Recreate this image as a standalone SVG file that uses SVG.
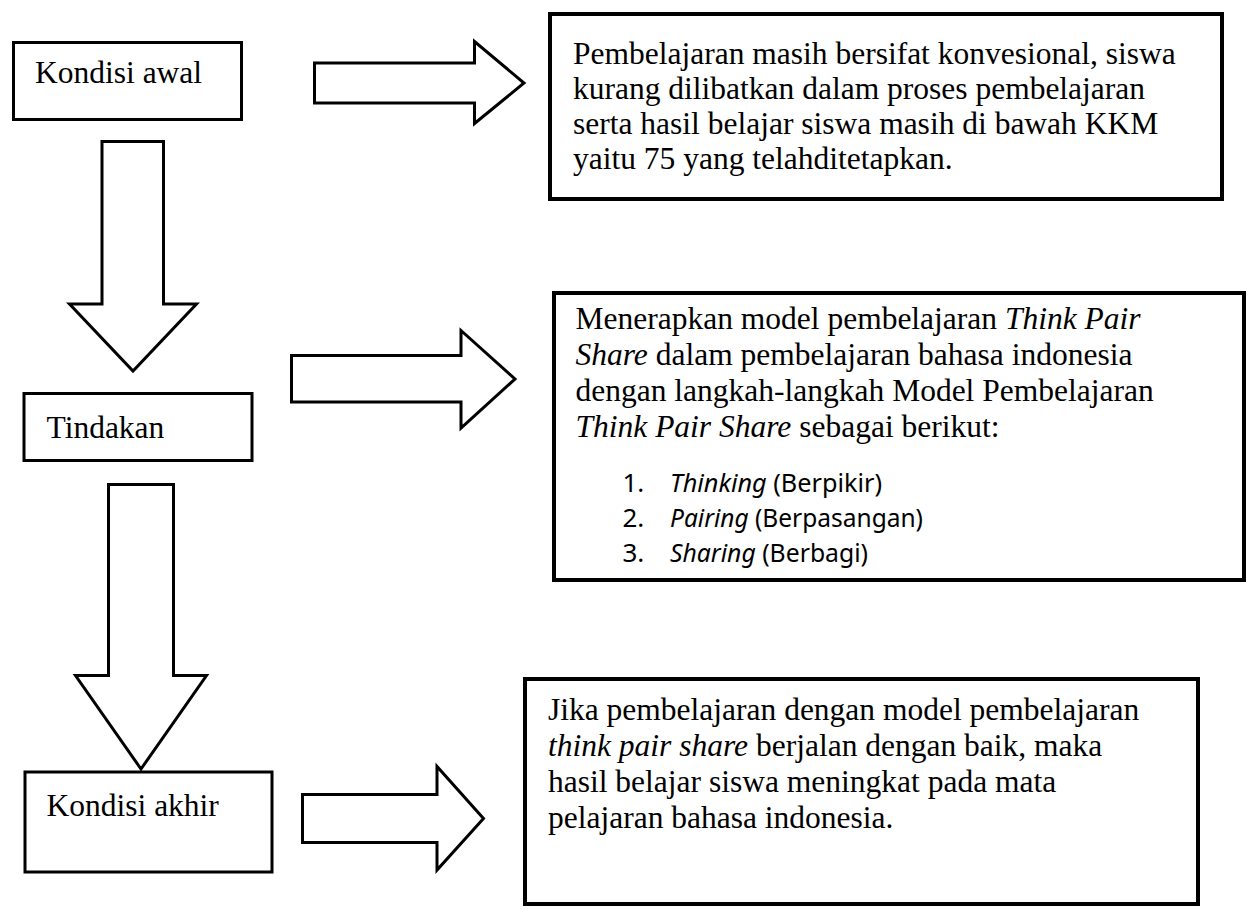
<svg xmlns="http://www.w3.org/2000/svg" width="1257" height="917" viewBox="0 0 1257 917">
<style>
.bg{fill:#fff}
.box{fill:#fff;stroke:#000;stroke-width:3}
.bigbox{fill:#fff;stroke:#000;stroke-width:4}
.arrow{fill:#fff;stroke:#000;stroke-width:3;stroke-linejoin:miter}
.t{font-family:"Liberation Serif","Times New Roman",serif;font-size:31.5px;fill:#000}
.li{font-family:"Noto Sans","Open Sans",sans-serif;font-size:26px;fill:#000}
.i{font-style:italic}
</style>
<rect class="bg" x="0" y="0" width="1257" height="917"/>
<g id="connectors">
  <polygon id="arrow-right-1" class="arrow" points="314.5,63 474.5,63 474.5,41.5 524,83 474.5,123.5 474.5,103 314.5,103"/>
  <polygon id="arrow-down-1" class="arrow" points="102,141.5 163.5,141.5 163.5,304 196.5,304 133,371 69.5,304 102,304"/>
  <polygon id="arrow-right-2" class="arrow" points="291.5,355.5 461,355.5 461,330.5 515,379 461,428 461,402 291.5,402"/>
  <polygon id="arrow-down-2" class="arrow" points="108.5,484.5 173.5,484.5 173.5,675.5 206.5,675.5 141,769 75.5,675.5 108.5,675.5"/>
  <polygon id="arrow-right-3" class="arrow" points="302.5,794.5 437,794.5 437,766.5 483.5,818.5 437,870 437,842.5 302.5,842.5"/>
</g>
<g id="kondisi-awal">
  <rect class="box" x="13.5" y="42.5" width="228" height="77"/>
  <text class="t" x="35" y="83">Kondisi awal</text>
</g>
<g id="tindakan">
  <rect class="box" x="24" y="393.5" width="228" height="67"/>
  <text class="t" x="46.5" y="438">Tindakan</text>
</g>
<g id="kondisi-akhir">
  <rect class="box" x="25" y="772" width="247" height="100"/>
  <text class="t" x="46.5" y="816">Kondisi akhir</text>
</g>
<g id="desc-awal">
  <rect class="bigbox" x="550" y="14" width="672" height="185"/>
  <text class="t" x="573" y="64">Pembelajaran masih bersifat konvesional, siswa</text>
  <text class="t" x="573" y="99">kurang dilibatkan dalam proses pembelajaran</text>
  <text class="t" x="573" y="134">serta hasil belajar siswa masih di bawah KKM</text>
  <text class="t" x="573" y="169">yaitu 75 yang telahditetapkan.</text>
</g>
<g id="desc-tindakan">
  <rect class="bigbox" x="554" y="293" width="690" height="287"/>
  <text class="t" x="575.5" y="329">Menerapkan model pembelajaran <tspan class="i">Think Pair</tspan></text>
  <text class="t" x="575.5" y="365"><tspan class="i">Share</tspan> dalam pembelajaran bahasa indonesia</text>
  <text class="t" x="575.5" y="401">dengan langkah-langkah Model Pembelajaran</text>
  <text class="t" x="575.5" y="437"><tspan class="i">Think Pair Share</tspan> sebagai berikut:</text>
  <text class="li" x="622.5" y="492">1.</text>
  <text class="li" x="670" y="492" textLength="212" lengthAdjust="spacingAndGlyphs"><tspan class="i">Thinking</tspan> (Berpikir)</text>
  <text class="li" x="622.5" y="527">2.</text>
  <text class="li" x="670" y="527" textLength="253" lengthAdjust="spacingAndGlyphs"><tspan class="i">Pairing</tspan> (Berpasangan)</text>
  <text class="li" x="622.5" y="562">3.</text>
  <text class="li" x="670" y="562" textLength="198" lengthAdjust="spacingAndGlyphs"><tspan class="i">Sharing</tspan> (Berbagi)</text>
</g>
<g id="desc-akhir">
  <rect class="bigbox" x="525" y="679" width="673" height="225"/>
  <text class="t" x="548" y="720">Jika pembelajaran dengan model pembelajaran</text>
  <text class="t" x="548" y="756"><tspan class="i">think pair share</tspan> berjalan dengan baik, maka</text>
  <text class="t" x="548" y="792">hasil belajar siswa meningkat pada mata</text>
  <text class="t" x="548" y="828">pelajaran bahasa indonesia.</text>
</g>
</svg>
